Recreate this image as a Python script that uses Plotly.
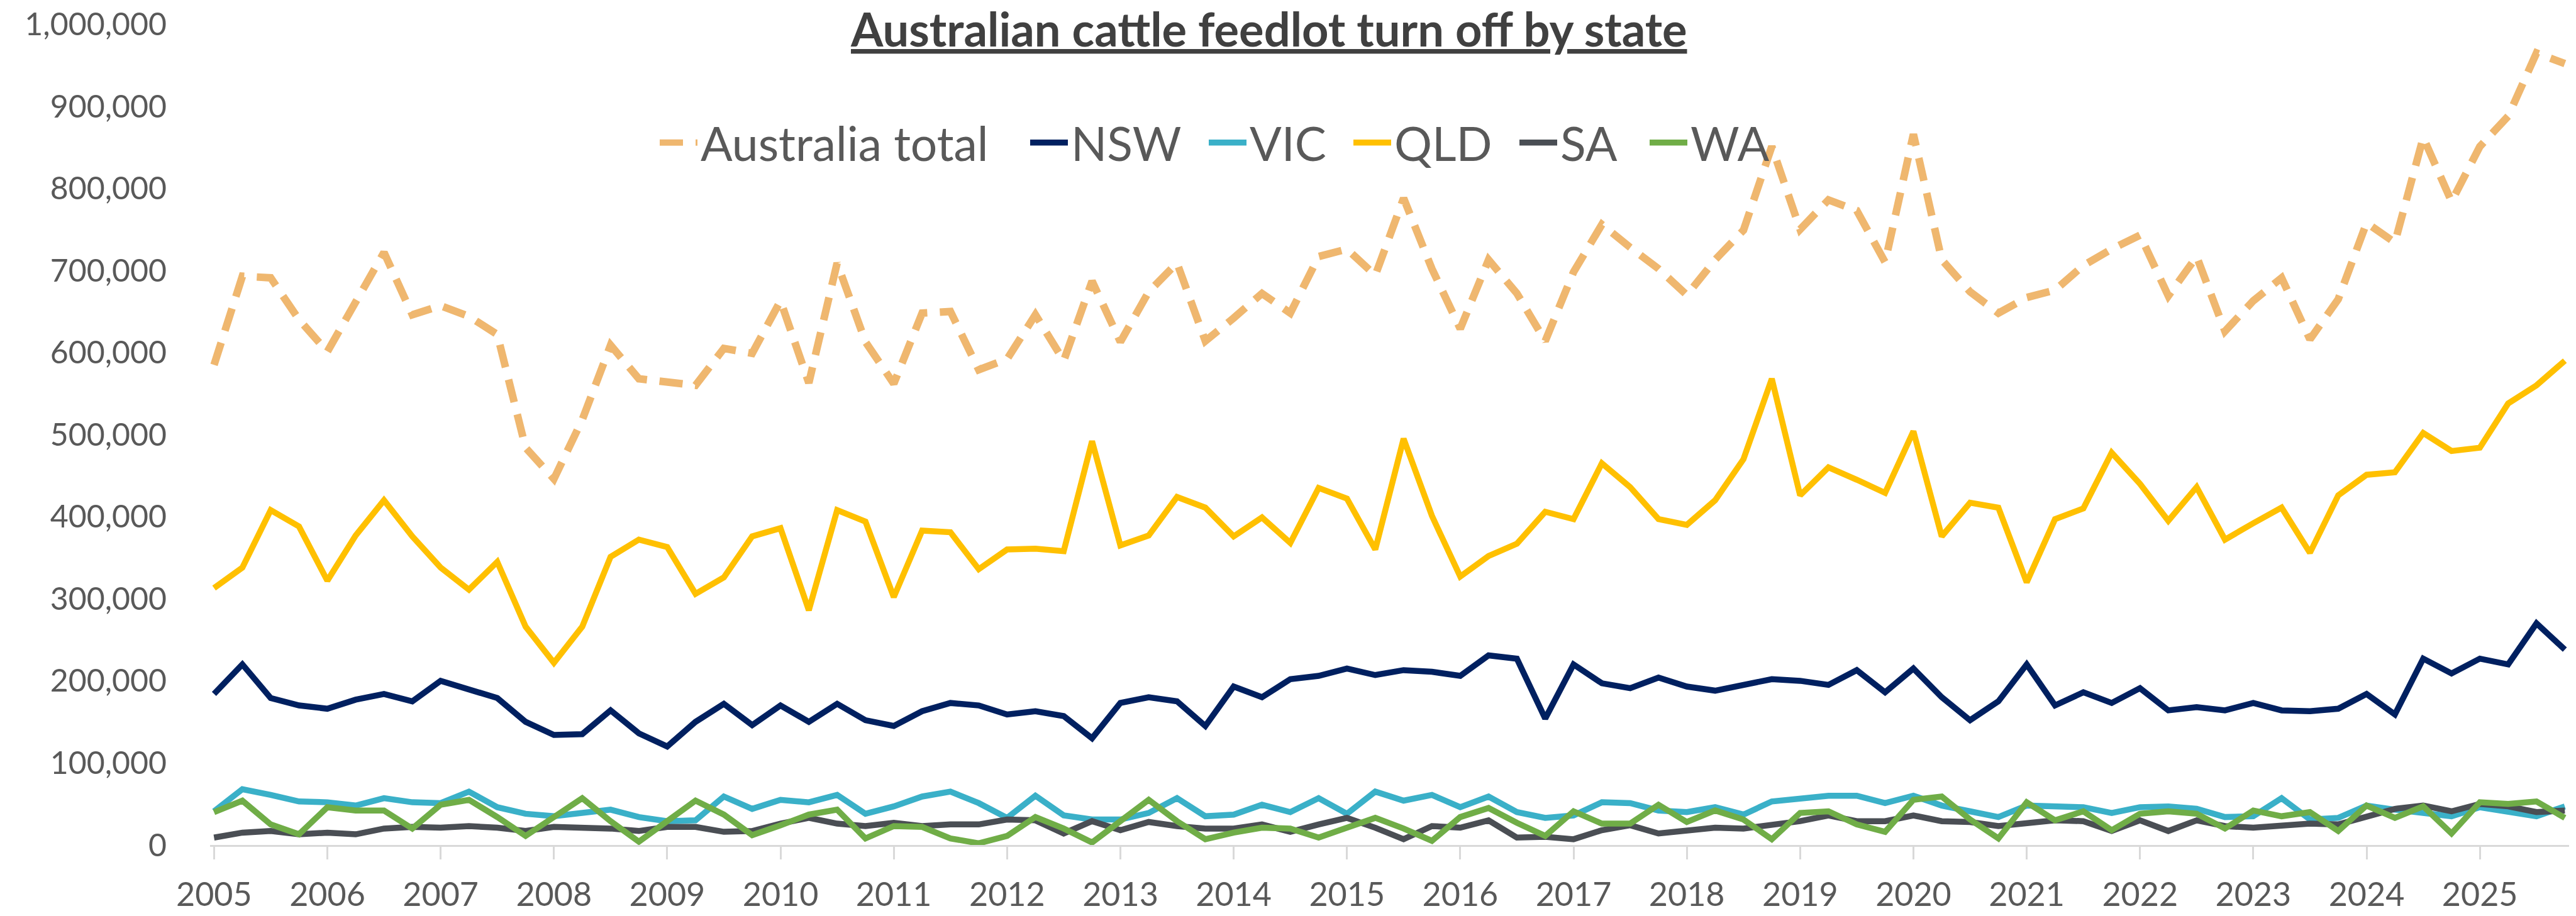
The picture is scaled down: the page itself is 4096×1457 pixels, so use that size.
import plotly.graph_objects as go

# Quarterly turn-off, 2005 Q1 .. 2025 Q4 (head)
quarters = [f"{y}Q{q}" for y in range(2005, 2026) for q in range(1, 5)]
xpos = [int(s[:4]) + (int(s[-1]) - 1) / 4 for s in quarters]

australia_total = [585, 693, 691, 640, 601, 660, 722, 646, 657, 644, 622, 484, 446, 518, 609, 568,
                   564, 560, 605, 599, 663, 563, 709, 613, 562, 648, 650, 579, 592, 646, 590, 687,
                   613, 674, 709, 614, 642, 672, 648, 717, 726, 694, 788, 702, 629, 713, 672, 614,
                   698, 756, 728, 702, 670, 713, 749, 851, 750, 786, 773, 710, 866, 713, 674, 648,
                   667, 676, 706, 726, 743, 669, 717, 626, 663, 691, 616, 665, 758, 734, 862, 784,
                   851, 888, 965, 952]
nsw = [184, 220, 179, 170, 166, 177, 184, 175, 200, 189, 179, 150, 134, 135, 164, 136,
       120, 150, 172, 146, 170, 150, 172, 152, 145, 163, 173, 170, 159, 163, 157, 130,
       173, 180, 175, 145, 193, 180, 202, 206, 215, 207, 213, 211, 206, 231, 227, 154,
       220, 197, 191, 204, 193, 188, 195, 202, 200, 195, 213, 186, 215, 180, 152, 175,
       220, 170, 186, 173, 191, 164, 168, 164, 173, 164, 163, 166, 184, 159, 227, 209,
       227, 220, 270, 238]
vic = [41, 68, 61, 53, 52, 48, 57, 52, 51, 65, 46, 38, 35, 39, 43, 34,
       29, 30, 59, 44, 55, 52, 61, 38, 47, 59, 65, 51, 33, 60, 36, 31,
       31, 39, 57, 35, 37, 49, 40, 57, 38, 65, 54, 61, 46, 59, 40, 33,
       36, 52, 51, 42, 40, 46, 37, 53, 57, 60, 60, 51, 60, 48, 41, 34,
       48, 47, 46, 39, 46, 47, 44, 34, 35, 57, 31, 33, 48, 43, 39, 35,
       46, 40, 35, 47]
qld = [313, 338, 408, 388, 322, 377, 420, 376, 338, 311, 345, 266, 222, 266, 351, 372,
       363, 306, 326, 376, 386, 286, 408, 394, 302, 383, 381, 336, 360, 361, 358, 492,
       365, 377, 424, 411, 376, 399, 368, 435, 422, 360, 495, 401, 327, 352, 367, 406,
       397, 465, 436, 397, 390, 420, 470, 568, 426, 460, 445, 429, 504, 376, 417, 411,
       320, 397, 410, 478, 440, 395, 436, 372, 392, 411, 356, 426, 451, 454, 502, 480,
       484, 538, 560, 590]
sa = [9, 15, 17, 13, 15, 13, 20, 22, 21, 23, 21, 17, 22, 21, 20, 17,
      22, 22, 16, 17, 26, 33, 26, 23, 27, 23, 25, 25, 31, 30, 14, 29,
      18, 28, 23, 20, 20, 25, 16, 25, 33, 21, 7, 23, 21, 30, 9, 10,
      7, 18, 24, 14, 17, 21, 20, 25, 29, 36, 29, 29, 36, 29, 28, 23,
      27, 30, 29, 17, 30, 17, 30, 23, 21, 23, 26, 25, 35, 44, 48, 41,
      50, 47, 40, 42]
wa = [40, 54, 25, 13, 46, 42, 42, 20, 49, 55, 34, 11, 34, 57, 29, 4,
      29, 54, 37, 12, 24, 37, 43, 8, 23, 22, 8, 2, 11, 34, 20, 3,
      29, 55, 29, 7, 15, 21, 20, 9, 21, 33, 20, 5, 34, 45, 27, 11,
      41, 26, 26, 49, 28, 42, 31, 7, 39, 41, 25, 16, 55, 59, 31, 8,
      52, 30, 41, 18, 38, 41, 38, 20, 42, 35, 40, 17, 48, 33, 47, 14,
      52, 50, 53, 33]

year_ticks = list(range(2005, 2026))
y_ticks = list(range(0, 1000001, 100000))
title_text = "Australian cattle feedlot turn off by state"

# name, values, colour, width, dash, legend id, legend left edge (px)
series = [
    ("Australia total", australia_total, "#EFB76F", 12, "37px,20px", "legend", 1036),
    ("NSW", nsw, "#002060", 9.5, "solid", "legend2", 1625),
    ("VIC", vic, "#3AB0C8", 9.5, "solid", "legend3", 1909),
    ("QLD", qld, "#FFC000", 9.5, "solid", "legend4", 2139),
    ("SA", sa, "#4A4E54", 9.5, "solid", "legend5", 2403),
    ("WA", wa, "#70AD47", 9.5, "solid", "legend6", 2610),
]

W, H = 4096, 1457
ML, MR, MT, MB = 326, 19, 30, 121
PW = W - ML - MR
PH = H - MT - MB

FONT = "Lato"
fig = go.Figure()
legends = {}
for name, vals, color, width, dash, leg, lx in series:
    fig.add_trace(go.Scatter(
        x=xpos, y=[v * 1000 for v in vals], mode="lines", name=name,
        line=dict(color=color, width=width, dash=dash), legend=leg,
    ))
    legends[leg] = dict(orientation="h", x=(lx - ML) / PW, xanchor="left",
                        y=(H - MB - 219) / PH, yanchor="middle",
                        font=dict(family=FONT, size=75, color="#595959"),
                        bgcolor="rgba(0,0,0,0)", itemwidth=60)

fig.add_annotation(
    text=f"<b>{title_text}</b>", showarrow=False,
    xref="paper", yref="paper", x=(2009 - ML) / PW, xanchor="center",
    y=(H - MB - 84) / PH, yanchor="bottom",
    font=dict(family=FONT, size=74, color="#404040", lineposition="under"),
)

fig.update_layout(
    width=W, height=H,
    margin=dict(l=ML, r=MR, t=MT, b=MB, autoexpand=False),
    paper_bgcolor="white", plot_bgcolor="white",
    font=dict(family=FONT, color="#595959"),
    showlegend=True,
    xaxis=dict(range=[2004.9648, 2025.7875], tickvals=year_ticks,
               ticktext=[str(y) for y in year_ticks],
               showgrid=False, zeroline=False, showline=True, linecolor="#D9D9D9",
               linewidth=2.5, ticks="outside", ticklen=20, tickwidth=2.5, tickcolor="#D9D9D9",
               tickfont=dict(family=FONT, size=52, color="#595959"), ticklabelstandoff=12),
    yaxis=dict(range=[0, 1000400], tickvals=y_ticks, tickformat=",d",
               showgrid=False, zeroline=False, showline=False,
               ticks="outside", ticklen=58, tickcolor="rgba(0,0,0,0)",
               ticklabeloverflow="allow",
               tickfont=dict(family=FONT, size=50, color="#595959")),
    **legends,
)

fig.write_html("out.html")
